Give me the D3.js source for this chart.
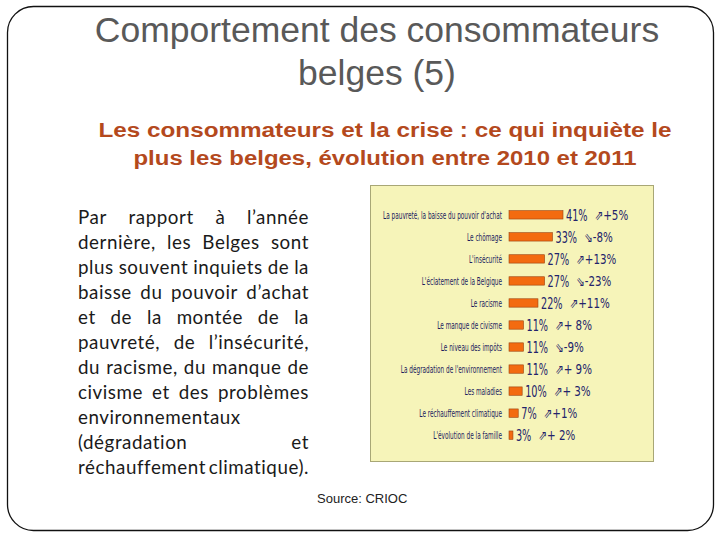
<!DOCTYPE html>
<html>
<head>
<meta charset="UTF-8">
<script src="https://cdn.jsdelivr.net/npm/d3@7"></script>
<style>
  body { margin:0; background:#fff; }
  svg { display:block; }
</style>
</head>
<body>
<svg id="slide" width="720" height="540"></svg>
<script>
// données du graphique
var categories = ["La pauvreté, la baisse du pouvoir d'achat", "Le chômage", "L'insécurité",
  "L'éclatement de la Belgique", "Le racisme", "Le manque de civisme", "Le niveau des impôts",
  "La dégradation de l'environnement", "Les maladies", "Le réchauffement climatique",
  "L'évolution de la famille"];
var values = [41, 33, 27, 27, 22, 11, 11, 11, 10, 7, 3];
var changes = ["+5%", "-8%", "+13%", "-23%", "+11%", "+ 8%", "-9%", "+ 9%", "+ 3%", "+1%", "+ 2%"];
var directions = ["up", "down", "up", "down", "up", "up", "down", "up", "up", "up", "up"];

var titleLines = ["Comportement des consommateurs", "belges (5)"];
var subtitleLines = ["Les consommateurs et  la crise : ce qui inquiète le",
  "plus les belges, évolution entre 2010 et 2011"];
var paraLines = ["Par rapport à l’année", "dernière, les Belges sont", "plus souvent inquiets de la",
  "baisse du pouvoir d’achat", "et de la montée de la", "pauvreté, de l’insécurité,",
  "du racisme, du manque de", "civisme et des problèmes", "environnementaux",
  "(dégradation et", "réchauffement climatique)."];
var justifyLine = [true, true, true, true, true, true, true, true, false, true, true];

var svg = d3.select("#slide");
var narrow = "'Liberation Sans Narrow', 'DejaVu Sans Condensed', 'Roboto', sans-serif";

// cadre de la diapo
svg.append("rect")
  .attr("x", 7.5).attr("y", 6.5).attr("width", 706).attr("height", 524)
  .attr("rx", 26).attr("ry", 26)
  .attr("fill", "none").attr("stroke", "#111").attr("stroke-width", 1.3);

// titre
svg.selectAll(".titre").data(titleLines).enter().append("text")
  .attr("x", 377).attr("y", function(d, i) { return 42 + i * 43; })
  .attr("text-anchor", "middle")
  .style("font-family", "'Liberation Sans', Arial, sans-serif")
  .style("font-size", "35.5px").style("fill", "#595959")
  .text(function(d) { return d; });

// sous-titre
var subW = [573, 503];
svg.selectAll(".sous").data(subtitleLines).enter().append("text")
  .attr("x", 385).attr("y", function(d, i) { return 137 + i * 28; })
  .attr("text-anchor", "middle")
  .attr("textLength", function(d, i) { return subW[i]; })
  .attr("lengthAdjust", "spacingAndGlyphs")
  .style("font-family", "'Liberation Sans', Arial, sans-serif")
  .style("font-size", "20px").style("font-weight", "bold").style("fill", "#b4491d")
  .text(function(d) { return d; });

// paragraphe justifié
var pLeft = 78, pRight = 309;
paraLines.forEach(function(line, i) {
  var y = 224 + i * 25;
  var words = line.split(" ");
  var g = svg.append("g");
  var nodes = words.map(function(w) {
    return g.append("text").attr("y", y)
      .style("font-family", "Lato, 'Open Sans', sans-serif")
      .style("font-size", "18.8px").style("letter-spacing", "0.55px").style("fill", "#1a1a1a")
      .text(w);
  });
  var widths = nodes.map(function(n) { return n.node().getComputedTextLength(); });
  var total = d3.sum(widths);
  var gap = (justifyLine[i] && words.length > 1) ? (pRight - pLeft - total) / (words.length - 1) : 4.5;
  var x = pLeft;
  nodes.forEach(function(n, k) { n.attr("x", x); x += widths[k] + gap; });
});

// panneau du graphique
svg.append("rect")
  .attr("x", 370.5).attr("y", 185.5).attr("width", 283).attr("height", 276)
  .attr("fill", "#f6f4b9").attr("stroke", "#a8a776").attr("stroke-width", 1);

var x = d3.scaleLinear().domain([0, 41]).range([509, 563]);
var y = d3.scaleBand().domain(categories).range([197, 453]).padding(0.62);

var chart = svg.append("g");

chart.selectAll(".bar").data(values).enter().append("rect")
  .attr("x", x(0))
  .attr("y", function(d, i) { return y(categories[i]); })
  .attr("width", function(d) { return x(d) - x(0); })
  .attr("height", y.bandwidth())
  .attr("fill", "#f36b10").attr("stroke", "#9a4210").attr("stroke-width", 0.6);

// libellés des catégories (police étroite, compressée pour tenir dans 119 px)
var labG = chart.append("g");
var labs = labG.selectAll("text").data(categories).enter().append("text")
  .attr("x", 0)
  .attr("y", function(d) { return y(d) + y.bandwidth() / 2; })
  .attr("dy", "0.35em").attr("text-anchor", "end")
  .style("font-family", narrow)
  .style("font-size", "10.5px").style("fill", "#1c1c5e")
  .text(function(d) { return d; });
var maxW = d3.max(labs.nodes(), function(n) { return n.getComputedTextLength(); });
labG.attr("transform", "translate(502,0) scale(" + (119 / maxW) + ",1)");

// valeurs et évolutions
values.forEach(function(v, i) {
  var cy = y(categories[i]) + y.bandwidth() / 2;
  var vx = x(v) + 3;
  var t = chart.append("text")
    .attr("transform", "translate(" + vx + "," + cy + ") scale(0.72,1)")
    .attr("dy", "0.38em")
    .style("font-family", narrow)
    .style("font-size", "15px").style("fill", "#23236b")
    .text(v + "%");
  var w = t.node().getComputedTextLength() * 0.72;
  chart.append("text")
    .attr("transform", "translate(" + (vx + w + 7) + "," + cy + ") scale(0.85,1)")
    .attr("dy", "0.38em")
    .style("font-family", narrow)
    .style("font-size", "13.5px").style("fill", "#23236b")
    .text((directions[i] === "up" ? "⇗" : "⇘") + changes[i]);
});

// source
svg.append("text")
  .attr("x", 317).attr("y", 503)
  .style("font-family", "'Liberation Sans', Arial, sans-serif")
  .style("font-size", "13px").style("fill", "#222")
  .text("Source: CRIOC");
</script>
</body>
</html>
